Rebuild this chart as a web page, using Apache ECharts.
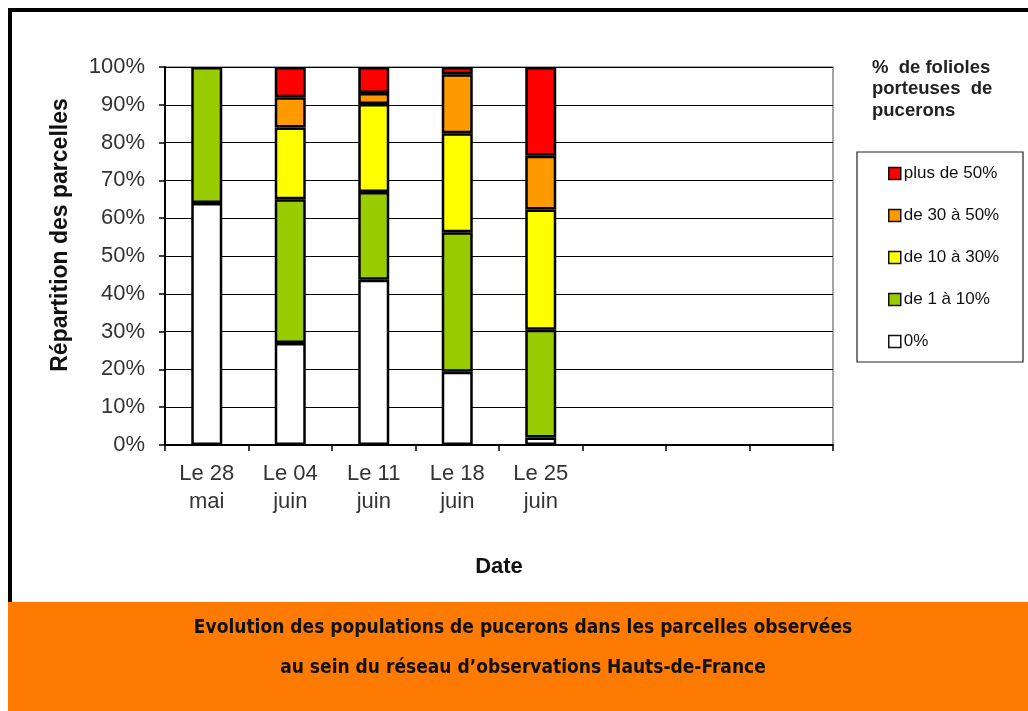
<!DOCTYPE html>
<html><head><meta charset="utf-8">
<script src="https://cdn.jsdelivr.net/npm/echarts@6/dist/echarts.min.js"></script>
<style>html,body{margin:0;padding:0;background:#fff}#c{width:1028px;height:711px}</style>
</head><body><div id="c"></div>
<script>
const categories = ['Le 28\nmai', 'Le 04\njuin', 'Le 11\njuin', 'Le 18\njuin', 'Le 25\njuin', '', '', ''];
const seriesNames = ['0%', 'de 1 à 10%', 'de 10 à 30%', 'de 30 à 50%', 'plus de 50%'];
const v0   = [64, 27, 43.7, 19.4, 2];
const v1   = [36, 38, 23.2, 36.9, 28.5];
const v10  = [0, 19, 23.3, 26.2, 31.8];
const v30  = [0, 8, 2.9, 15.6, 14.2];
const v50  = [0, 8, 6.9, 1.9, 23.5];
const colors = ['#ffffff', '#99cc00', '#ffff00', '#ff9900', '#ff0000'];
const values = [v0, v1, v10, v30, v50];
const FONT = 'Arial, "Liberation Sans", sans-serif';

const chart = echarts.init(document.getElementById('c'), null, {renderer: 'canvas'});
const series = seriesNames.map((n, i) => ({
  name: n, type: 'bar', stack: 'all', barWidth: 31,
  data: values[i].map(v => v === 0 ? null : v),
  itemStyle: {color: colors[i], borderColor: '#000', borderWidth: 2.5},
  emphasis: {disabled: true}
}));
chart.setOption({
  animation: false,
  backgroundColor: '#fff',
  textStyle: {fontFamily: FONT},
  grid: {left: 165, right: 195, top: 67, bottom: 266, show: true, borderColor: '#888', borderWidth: 1.5},
  xAxis: {
    type: 'category', data: categories,
    axisLine: {lineStyle: {color: '#000', width: 2}},
    axisTick: {show: true, alignWithLabel: false, interval: 0, length: 6, lineStyle: {color: '#000', width: 1.5}},
    axisLabel: {interval: 0, fontSize: 22, color: '#333', lineHeight: 28, margin: 15},
    name: 'Date', nameLocation: 'middle', nameGap: 111,
    nameTextStyle: {fontSize: 22, fontWeight: 'bold', color: '#111'}
  },
  yAxis: {
    type: 'value', min: 0, max: 100, interval: 10,
    axisLine: {show: true, lineStyle: {color: '#000', width: 2}},
    axisTick: {show: true, inside: false, length: 6, lineStyle: {color: '#000', width: 1.5}},
    axisLabel: {formatter: '{value}%', fontSize: 22, color: '#333', margin: 20},
    splitLine: {lineStyle: {color: '#000', width: 1}}
  },
  legend: {
    data: seriesNames.slice().reverse(),
    orient: 'vertical', left: 883, top: 160, itemGap: 25,
    itemWidth: 12, itemHeight: 12, icon: 'rect',
    itemStyle: {borderColor: '#111', borderWidth: 1.5},
    textStyle: {fontSize: 17, color: '#111', padding: [0, 0, 0, -2]},
    selectedMode: false
  },
  graphic: [
    {type: 'rect', shape: {x: 10, y: 10, width: 1030, height: 600}, style: {fill: 'none', stroke: '#000', lineWidth: 4}, z: 100},
    {type: 'rect', shape: {x: 857, y: 152, width: 166, height: 210}, style: {fill: 'none', stroke: '#222', lineWidth: 1.2}},
    {type: 'text', x: 61, y: 235, rotation: Math.PI / 2, style: {text: 'Répartition des parcelles', font: 'bold 23px ' + FONT, fill: '#111', textAlign: 'center', textVerticalAlign: 'middle'}},
    {type: 'text', left: 872, top: 57, style: {text: '%  de folioles\nporteuses  de\npucerons', font: 'bold 18.5px ' + FONT, fill: '#222', lineHeight: 21.5}},
    {type: 'rect', shape: {x: 8, y: 602, width: 1020, height: 109}, style: {fill: '#fe7a00'}, z: 101},
    {type: 'text', x: 523, y: 628, z: 102, style: {text: 'Evolution des populations de pucerons dans les parcelles observées', font: 'bold 19px "Liberation Sans Narrow", "DejaVu Sans Condensed", sans-serif', fill: '#111', textAlign: 'center', textVerticalAlign: 'middle'}},
    {type: 'text', x: 523, y: 668, z: 102, style: {text: 'au sein du réseau d’observations Hauts-de-France', font: 'bold 19px "Liberation Sans Narrow", "DejaVu Sans Condensed", sans-serif', fill: '#111', textAlign: 'center', textVerticalAlign: 'middle'}}
  ],
  series: series
});
</script></body></html>
